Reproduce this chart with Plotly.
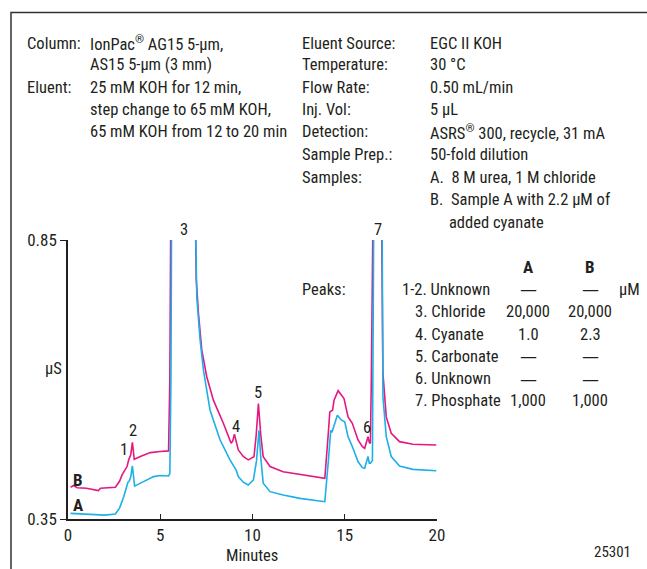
import plotly.graph_objects as go

# ---------------- data ----------------
a_time = [0.14, 0.7, 1.5, 2.0, 2.57, 2.8, 3.02, 3.18, 3.25, 3.32, 3.40, 3.49, 3.55, 3.61, 3.8, 4.1,
          4.64, 5.0, 5.45, 5.52, 5.58, 5.62, 6.2, 6.88, 6.93, 6.98, 7.16, 7.34, 7.7, 8.24, 8.78,
          8.92, 9.02, 9.12, 9.23, 9.5, 9.77, 10.05, 10.22, 10.35, 10.45, 10.58, 10.95, 11.66,
          12.57, 13.2, 13.92, 14.10, 14.19, 14.24, 14.30, 14.46, 14.60, 14.82, 15.0, 15.18,
          15.41, 15.72, 15.95, 16.08, 16.2, 16.26, 16.33, 16.39, 16.50, 16.53, 16.58, 16.8,
          17.02, 17.05, 17.07, 17.25, 17.52, 17.97, 18.69, 19.96]
a_signal = [0.360, 0.359, 0.358, 0.357, 0.359, 0.370, 0.390, 0.410, 0.416, 0.418, 0.425, 0.445,
            0.425, 0.409, 0.412, 0.417, 0.426, 0.428, 0.427, 0.432, 0.60, 0.95, 1.6, 0.95, 0.80,
            0.748, 0.671, 0.617, 0.545, 0.492, 0.456, 0.447, 0.441, 0.437, 0.426, 0.416, 0.411,
            0.420, 0.455, 0.509, 0.460, 0.414, 0.399, 0.393, 0.387, 0.384, 0.381, 0.450, 0.4975,
            0.509, 0.505, 0.521, 0.536, 0.527, 0.524, 0.4975, 0.480, 0.453, 0.442, 0.441, 0.455,
            0.462, 0.450, 0.450, 0.455, 0.60, 0.95, 1.6, 0.95, 0.70, 0.569, 0.4975, 0.462, 0.445,
            0.439, 0.4366]

b_time = [0.14, 0.3, 0.5, 1.0, 1.65, 1.76, 2.57, 2.8, 2.93, 3.1, 3.2, 3.29, 3.40, 3.49, 3.55,
          3.59, 3.92, 4.46, 5.0, 5.45, 5.52, 5.58, 6.2, 6.88, 6.95, 7.07, 7.25, 7.52, 7.88, 8.42,
          8.84, 8.93, 9.02, 9.12, 9.23, 9.5, 9.77, 10.08, 10.2, 10.32, 10.45, 10.58, 10.95, 11.66,
          12.57, 13.2, 13.92, 14.10, 14.19, 14.34, 14.42, 14.64, 14.82, 14.96, 15.18, 15.41,
          15.72, 15.95, 16.08, 16.2, 16.26, 16.33, 16.39, 16.44, 16.5, 16.75, 16.98, 17.03,
          17.07, 17.25, 17.52, 17.97, 18.69, 19.96]
b_signal = [0.407, 0.410, 0.406, 0.405, 0.401, 0.405, 0.407, 0.418, 0.429, 0.440, 0.444, 0.456,
            0.465, 0.4875, 0.470, 0.457, 0.462, 0.469, 0.471, 0.472, 0.60, 0.95, 1.6, 0.95, 0.78,
            0.7186, 0.653, 0.605, 0.563, 0.5215, 0.4857, 0.490, 0.502, 0.490, 0.4737, 0.462,
            0.456, 0.4617, 0.500, 0.557, 0.500, 0.4617, 0.444, 0.4348, 0.430, 0.426, 0.423, 0.500,
            0.542, 0.545, 0.563, 0.580, 0.572, 0.566, 0.533, 0.5215, 0.4916, 0.480, 0.4767, 0.490,
            0.4975, 0.487, 0.4857, 0.60, 0.95, 1.6, 0.95, 0.70, 0.611, 0.533, 0.5036, 0.4886,
            0.484, 0.4826]

peak_labels = ["1", "2", "3", "4", "5", "6", "7"]
peak_label_x = [3.05, 3.5, 6.28, 9.1, 10.3, 16.2, 16.78]
peak_label_y = [0.474, 0.508, 0.868, 0.515, 0.576, 0.514, 0.868]

x_ticks = [0, 5, 10, 15, 20]
y_ticks = [0.35, 0.85]
y_ticktext = ["0.35", "0.85"]

left_rows = [("Column:", "IonPac<sup>®</sup> AG15 5-µm,"),
             ("", "AS15 5-µm (3 mm)"),
             ("Eluent:", "25 mM KOH for 12 min,"),
             ("", "step change to 65 mM KOH,"),
             ("", "65 mM KOH from 12 to 20 min")]
right_rows = [("Eluent Source:", "EGC II KOH"),
              ("Temperature:", "30 °C"),
              ("Flow Rate:", "0.50 mL/min"),
              ("Inj. Vol:", "5 µL"),
              ("Detection:", "ASRS<sup>®</sup> 300, recycle, 31 mA"),
              ("Sample Prep.:", "50-fold dilution"),
              ("Samples:", "A.  8 M urea, 1 M chloride"),
              ("", "B.  Sample A with 2.2 µM of"),
              ("", "     added cyanate")]
peak_names = ["1-2. Unknown", "3. Chloride", "4. Cyanate", "5. Carbonate", "6. Unknown", "7. Phosphate"]
conc_a = ["—", "20,000", "1.0", "—", "—", "1,000"]
conc_b = ["—", "20,000", "2.3", "—", "—", "1,000"]

# ---------------- layout helpers (pixel -> paper) ----------------
W, H = 647, 569
L, R, T, B = 68, 437, 240, 519
FONT = "Liberation Sans Narrow, Arial Narrow, Roboto Condensed, sans-serif"
DASH_FONT = "DejaVu Sans, sans-serif"
FS = 16.5
INK = "#231f20"
BLUE = "#1cb0e6"
MAG = "#e3197f"


def pxx(x):
    return (x - L) / (R - L)


def pxy(y):
    return (B - y) / (B - T)


fig = go.Figure()
fig.add_trace(go.Scatter(x=b_time, y=b_signal, mode="lines", line=dict(color=MAG, width=1.6),
                         name="B", showlegend=False))
fig.add_trace(go.Scatter(x=a_time, y=a_signal, mode="lines", line=dict(color=BLUE, width=1.6),
                         name="A", showlegend=False))

ann = []


def text(x, y, s, anchor="left", bold=False, size=FS, family=FONT):
    ann.append(dict(x=pxx(x), y=pxy(y), xref="paper", yref="paper", text=("<b>%s</b>" % s) if bold else s,
                    showarrow=False, xanchor=anchor, yanchor="middle",
                    font=dict(family=family, size=size, color=INK)))


def cell(x, y, s):
    if s == "—":
        text(x, y, s, anchor="center", size=17, family=DASH_FONT)
    else:
        text(x, y, s, anchor="center")


line_y = [43, 64.5, 87, 109.5, 132, 154.5, 177, 199.5, 222]
for i, (lab, val) in enumerate(left_rows):
    if lab:
        text(25, line_y[i], lab)
    text(88, line_y[i], val)
for i, (lab, val) in enumerate(right_rows):
    if lab:
        text(300, line_y[i], lab)
    text(428, line_y[i], val)

table_y = [289, 311.5, 334, 356, 378.5, 400.5]
text(528, 267, "A", anchor="center", bold=True, size=17)
text(590, 267, "B", anchor="center", bold=True, size=17)
text(300, table_y[0], "Peaks:")
for i, name in enumerate(peak_names):
    text(400 if i == 0 else 413, table_y[i], name)
    cell(528, table_y[i], conc_a[i])
    cell(590, table_y[i], conc_b[i])
text(617, table_y[0], "µM")

text(612, 552, "25301", anchor="center", size=15)
text(53, 368, "µS", anchor="center")
text(252, 555, "Minutes", anchor="center")
text(77.5, 480, "B", anchor="center", bold=True, size=17)
text(77.5, 505, "A", anchor="center", bold=True, size=17)

for lab, x, y in zip(peak_labels, peak_label_x, peak_label_y):
    ann.append(dict(x=x, y=(y - y_ticks[0]) / (y_ticks[1] - y_ticks[0]), xref="x", yref="paper",
                    text=lab, showarrow=False, xanchor="center", yanchor="middle",
                    font=dict(family=FONT, size=FS, color=INK)))

fig.update_layout(
    width=W, height=H,
    margin=dict(l=L, r=W - R, t=T, b=H - B, pad=0),
    paper_bgcolor="white", plot_bgcolor="white",
    annotations=ann,
    showlegend=False,
    hovermode=False,
    shapes=[dict(type="rect", xref="paper", yref="paper",
                 x0=pxx(11), x1=pxx(700), y0=pxy(12.5), y1=pxy(620),
                 line=dict(color="#333", width=1.5), layer="above")],
    xaxis=dict(range=[0, 20], tickvals=x_ticks, ticks="inside", ticklen=5, tickwidth=1.2,
               tickcolor=INK, showline=True, linecolor=INK, linewidth=1.5,
               showgrid=False, zeroline=False,
               tickfont=dict(family=FONT, size=17, color=INK)),
    yaxis=dict(range=[0.35, 0.85], tickvals=y_ticks, ticktext=y_ticktext, ticks="outside",
               ticklen=6, tickwidth=1.2, tickcolor=INK, showline=True, linecolor=INK,
               linewidth=1.5, showgrid=False, zeroline=False,
               tickfont=dict(family=FONT, size=17, color=INK)),
)

fig.write_html("out.html", config={"displayModeBar": False},
               post_script="document.body.style.margin='0';document.body.style.padding='0';")
